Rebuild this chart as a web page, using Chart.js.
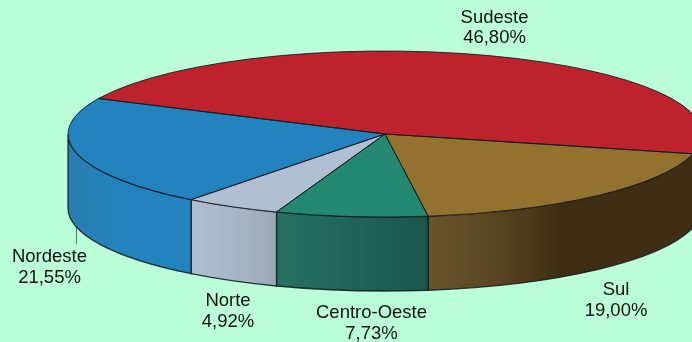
<!DOCTYPE html>
<html lang="pt">
<head>
  <meta charset="UTF-8">
  <title>Regiões</title>
  <script src="https://cdn.jsdelivr.net/npm/chart.js"></script>
  <style>
    html, body { margin: 0; padding: 0; background: #bbffd9; overflow: hidden; }
    canvas { display: block; }
  </style>
</head>
<body>
  <canvas id="pie" width="692" height="342"></canvas>
  <script>
    // clockwise, starting at the back left of the pie
    const categories = ['Sudeste', 'Sul', 'Centro-Oeste', 'Norte', 'Nordeste'];
    const shares = [46.80, 19.00, 7.73, 4.92, 21.55];
    const topColors = ['#be232d', '#937230', '#258871', '#b0c0d2', '#2283be'];
    const sideStops = [
      ['#be232d', '#be232d'],
      ['#6a5429', '#5a4522', '#402e14', '#402e14', '#402e14'],
      ['#267162', '#1f6557', '#1a564c'],
      ['#aebecf', '#a8b7c7', '#9aa8b6'],
      ['#2a7db0', '#2283be', '#2283be']
    ];

    // where the tilted pie sits on the page
    const view = { cx: 385, cy: 134, rx: 317, ry: 83, depth: 74 };
    // label centres: x, first line y, second line y
    const labelSpots = [[494.5, 18, 38], [616, 290, 311], [371.5, 313, 334], [228, 301, 322], [49.5, 257, 278]];

    function tilt(ctx, arc) {
      ctx.translate(view.cx, view.cy);
      ctx.scale(view.rx / arc.outerRadius, view.ry / arc.outerRadius);
      ctx.translate(-arc.x, -arc.y);
    }

    function drawWalls(chart) {
      const ctx = chart.ctx;
      chart.getDatasetMeta(0).data.forEach((arc, i) => {
        // front half of the rim only
        [[0, Math.PI], [2 * Math.PI, 3 * Math.PI]].forEach(([lo, hi]) => {
          const a0 = Math.max(arc.startAngle, lo);
          const a1 = Math.min(arc.endAngle, hi);
          if (a1 <= a0) return;
          const x0 = view.cx + view.rx * Math.cos(a0);
          const x1 = view.cx + view.rx * Math.cos(a1);
          const grad = ctx.createLinearGradient(x1, 0, x0, 0);
          const stops = sideStops[i];
          stops.forEach((c, k) => grad.addColorStop(k / (stops.length - 1), c));
          // stops run left to right on screen
          ctx.beginPath();
          ctx.ellipse(view.cx, view.cy, view.rx, view.ry, 0, a0, a1);
          ctx.ellipse(view.cx, view.cy + view.depth, view.rx, view.ry, 0, a1, a0, true);
          ctx.closePath();
          ctx.fillStyle = grad;
          ctx.fill();
          ctx.lineWidth = 1.3;
          ctx.strokeStyle = 'rgba(15,25,30,0.85)';
          ctx.stroke();
        });
      });
    }

    const tiltedPie = {
      id: 'tiltedPie',
      beforeDatasetsDraw(chart) {
        const ctx = chart.ctx;
        // leader of the Nordeste label goes behind the wall
        ctx.strokeStyle = '#5f6f6a';
        ctx.lineWidth = 1;
        ctx.beginPath();
        ctx.moveTo(76.5, 222);
        ctx.lineTo(76.5, 244);
        ctx.stroke();
        drawWalls(chart);
        ctx.save();
        tilt(ctx, chart.getDatasetMeta(0).data[0]);
      },
      afterDatasetsDraw(chart) {
        const ctx = chart.ctx;
        ctx.restore();
        // outlines: path built under the tilt, stroked without it so the pen stays round
        chart.getDatasetMeta(0).data.forEach(arc => {
          ctx.save();
          tilt(ctx, arc);
          ctx.beginPath();
          ctx.moveTo(arc.x, arc.y);
          ctx.arc(arc.x, arc.y, arc.outerRadius, arc.startAngle, arc.endAngle);
          ctx.closePath();
          ctx.restore();
          ctx.lineWidth = 1;
          ctx.strokeStyle = 'rgba(15,25,30,0.85)';
          ctx.stroke();
        });
      },
      afterDraw(chart) {
        const ctx = chart.ctx;
        ctx.font = '18.5px "Liberation Sans", Arial, sans-serif';
        ctx.fillStyle = '#111';
        ctx.textAlign = 'center';
        ctx.textBaseline = 'middle';
        categories.forEach((name, i) => {
          const [x, y1, y2] = labelSpots[i];
          ctx.fillText(name, x, y1);
          ctx.fillText(shares[i].toFixed(2).replace('.', ',') + '%', x, y2);
        });
      }
    };

    new Chart(document.getElementById('pie'), {
      type: 'pie',
      data: {
        labels: categories,
        datasets: [{
          data: shares,
          backgroundColor: topColors,
          borderWidth: 0,
          clip: false
        }]
      },
      options: {
        responsive: false,
        animation: false,
        rotation: 295.3,
        events: [],
        layout: { padding: 0 },
        plugins: { legend: { display: false }, tooltip: { enabled: false } }
      },
      plugins: [tiltedPie]
    });
  </script>
</body>
</html>
